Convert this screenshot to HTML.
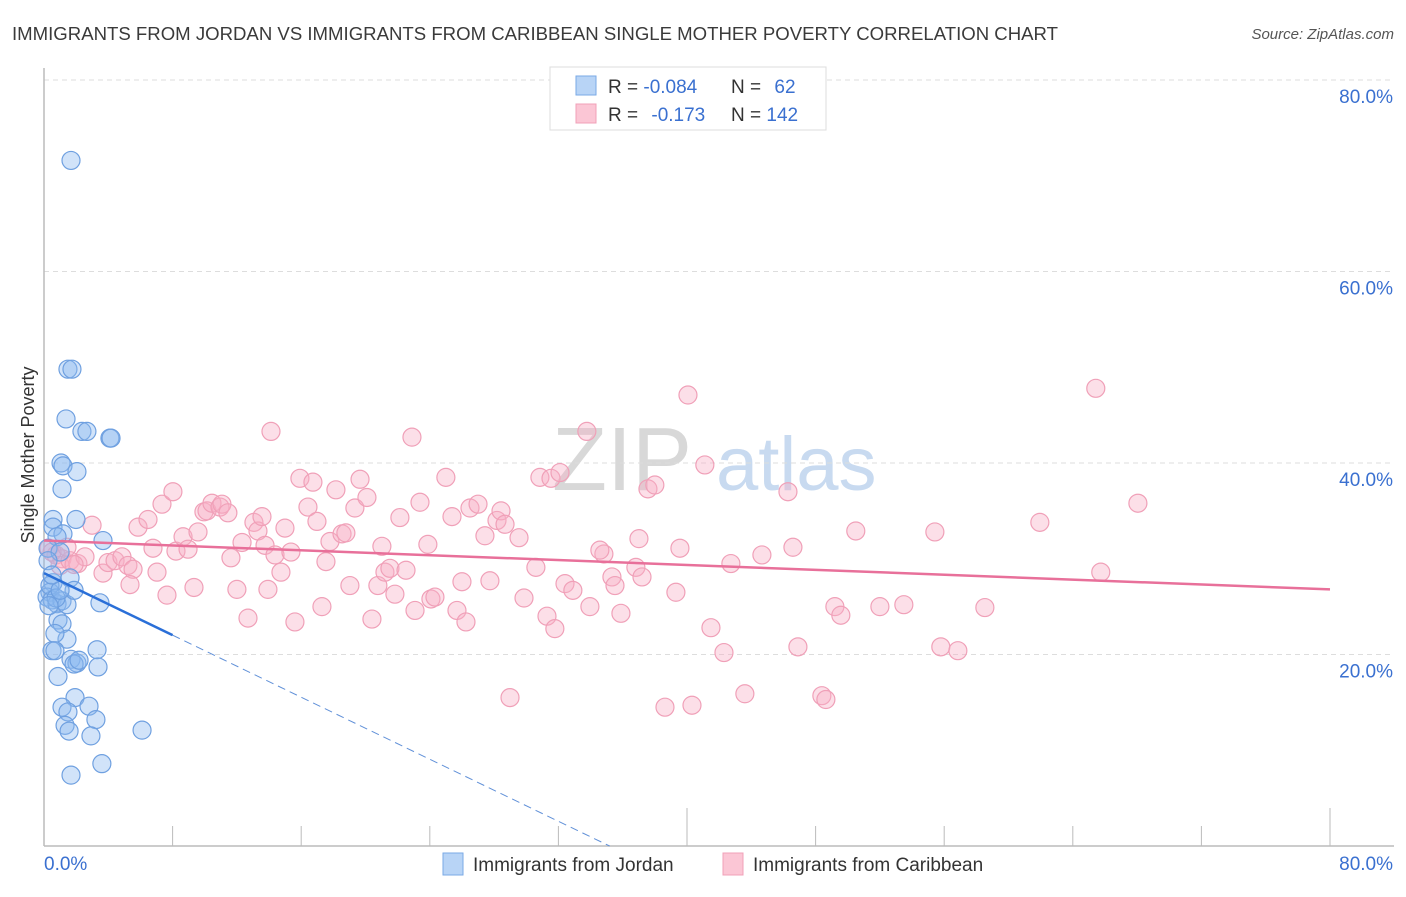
<!DOCTYPE html>
<html><head><meta charset="utf-8">
<style>
body{margin:0;background:#fff;font-family:"Liberation Sans",sans-serif;}
svg text{font-family:"Liberation Sans",sans-serif;}
</style></head>
<body>
<svg width="1406" height="892" xmlns="http://www.w3.org/2000/svg" id="chart">
<text x="12" y="40" font-size="18" fill="#3a3a3a" textLength="1046" lengthAdjust="spacingAndGlyphs">IMMIGRANTS FROM JORDAN VS IMMIGRANTS FROM CARIBBEAN SINGLE MOTHER POVERTY CORRELATION CHART</text>
<text x="1394" y="39" font-size="15" fill="#555" font-style="italic" text-anchor="end">Source: ZipAtlas.com</text>
<g>
<text x="552" y="490" font-size="90" fill="#d8d8d8" font-family="Liberation Serif">ZIP</text>
<text x="716" y="490" font-size="76" fill="#c8daf0">atlas</text>
</g>
<g id="grid"></g>
<g id="axes"></g>
<g id="pts"></g>
<g id="trends"></g>
<text transform="translate(34,455) rotate(-90)" font-size="18" fill="#333" text-anchor="middle">Single Mother Poverty</text>
<g>
<rect x="550" y="67" width="276" height="63" fill="#fff" stroke="#ddd"/>
<rect x="576" y="76" width="20" height="19" fill="#b8d4f6" stroke="#7aaae6"/>
<rect x="576" y="104" width="20" height="19" fill="#fbc6d5" stroke="#f0a0b8"/>
<text x="608" y="93" font-size="19" fill="#333">R = <tspan fill="#3a70d0">-0.084</tspan></text>
<text x="731" y="93" font-size="19" fill="#333">N = <tspan fill="#3a70d0" dx="8">62</tspan></text>
<text x="608" y="121" font-size="19" fill="#333">R = <tspan fill="#3a70d0" dx="8">-0.173</tspan></text>
<text x="731" y="121" font-size="19" fill="#333">N = <tspan fill="#3a70d0">142</tspan></text>
</g>
<g>
<rect x="443" y="853" width="20" height="22" fill="#b8d4f6" stroke="#7aaae6"/>
<text x="473" y="871" font-size="19" fill="#333">Immigrants from Jordan</text>
<rect x="723" y="853" width="20" height="22" fill="#fbc6d5" stroke="#f0a0b8"/>
<text x="753" y="871" font-size="19" fill="#333">Immigrants from Caribbean</text>
</g>
</svg>
<script>
const yTicks=[20,40,60,80];
const xTickLabels=["0.0%","80.0%"];
const jordanX=[1.68,1.49,1.74,1.37,2.36,2.67,4.1,4.17,1.06,1.18,2.05,1.12,0.56,1.99,0.56,1.18,0.81,3.67,0.25,1.0,0.25,0.56,1.62,0.37,0.19,0.5,0.81,1.12,1.43,3.48,1.87,0.87,1.12,1.43,0.68,0.5,0.68,3.3,1.68,2.05,1.87,2.18,3.36,0.87,1.93,1.12,2.8,1.49,3.23,1.31,1.56,2.92,6.1,1.68,3.6,0.37,0.75,0.31,1.0,0.5];
const jordanY=[71.6,49.8,49.8,44.6,43.3,43.3,42.6,42.6,40.0,39.7,39.1,37.3,34.1,34.1,33.3,32.6,32.3,31.9,31.1,30.7,29.8,27.5,28.0,26.5,26.0,25.7,25.3,25.6,25.2,25.4,26.7,23.6,23.2,21.6,22.2,20.4,20.4,20.5,19.5,19.1,19.0,19.4,18.7,17.7,15.5,14.5,14.6,14.0,13.2,12.6,12.0,11.5,12.1,7.4,8.6,27.2,25.9,25.1,26.7,28.3];
const caribX=[.31,.75,1.12,.5,1.0,1.62,2.11,2.55,2.99,1.43,1.87,3.67,3.98,4.42,4.85,5.22,5.54,5.85,5.35,6.47,6.78,7.03,7.34,7.65,8.02,8.21,8.65,8.96,9.33,9.58,9.95,10.14,10.45,10.95,11.07,11.44,11.63,12.0,12.32,12.69,13.06,13.31,13.56,13.75,13.93,14.12,14.37,14.74,14.99,15.36,15.61,15.92,16.42,16.73,16.98,17.29,17.54,17.79,18.16,18.54,18.78,19.03,19.34,19.66,20.09,20.4,20.77,21.02,21.21,21.52,21.83,22.14,22.52,22.89,23.08,23.39,23.88,24.07,24.32,25.0,25.38,25.69,26.0,26.25,26.5,27.0,27.43,27.74,28.18,28.43,28.68,28.99,29.55,29.86,30.6,30.85,31.29,31.54,31.78,32.1,32.41,32.9,33.77,33.96,34.83,35.33,35.52,35.89,36.82,37.01,37.2,37.57,38.0,38.63,39.31,39.56,40.06,40.31,41.11,41.49,42.3,42.73,43.6,44.66,46.28,46.59,46.9,49.2,49.57,50.5,52.0,53.49,55.42,55.79,56.85,58.53,61.95,65.43,65.74,68.05,48.39,48.64,34.58];
const caribY=[31.1,30.4,30.0,30.7,29.3,29.8,29.5,30.2,33.5,31.2,29.4,28.5,29.6,29.8,30.2,29.3,28.9,33.3,27.3,34.1,31.1,28.6,35.7,26.2,37.0,30.8,32.3,31.0,27.0,32.8,34.9,35.0,35.8,35.4,35.7,34.8,30.1,26.8,31.7,23.8,33.8,32.9,34.4,31.4,26.8,43.3,30.4,28.6,33.2,30.7,23.4,38.4,35.4,38.0,33.9,25.0,29.7,31.8,37.2,32.6,32.7,27.2,35.3,38.3,36.4,23.7,27.2,31.3,28.6,29.0,26.3,34.3,28.8,42.7,24.6,35.9,31.5,25.8,26.0,38.5,34.4,24.6,27.6,23.4,35.3,35.7,32.4,27.7,34.0,35.0,33.6,15.5,32.2,25.9,29.1,38.5,24.0,38.4,22.7,39.0,27.4,26.7,43.3,25.0,30.5,28.1,27.2,24.3,29.1,32.1,28.1,37.3,37.7,14.5,26.5,31.1,47.1,14.7,39.8,22.8,20.2,29.5,15.9,30.4,37.0,31.2,20.8,25.0,24.1,32.9,25.0,25.2,32.8,20.8,20.4,24.9,33.8,47.8,28.6,35.8,15.7,15.3,30.9];
const caribTrend=[31.9,26.8];
const jordanTrend=[28.5,-0.81];
const jordanSolidEnd=8;

const NS="http://www.w3.org/2000/svg";
const X0=44,X1=1330,Y0=846,Y80=80;
function sx(v){return X0+(v/80)*(X1-X0);}
function sy(v){return Y0-(v/80)*(Y0-Y80);}
function mk(tag,attrs,parent){const e=document.createElementNS(NS,tag);for(const k in attrs)e.setAttribute(k,attrs[k]);parent.appendChild(e);return e;}
const grid=document.getElementById('grid'),axes=document.getElementById('axes'),pts=document.getElementById('pts'),tr=document.getElementById('trends');
yTicks.forEach(t=>{
  const l=mk('line',{x1:X0,x2:1392,y1:sy(t),y2:sy(t),stroke:'#ddd','stroke-dasharray':'5,4'},grid);
  
  
  const tx=mk('text',{x:1393,y:sy(t)+23,'font-size':19,fill:'#3a70d0','text-anchor':'end'},axes);
  tx.textContent=t.toFixed(1)+'%';
  
  
});
const ya=mk('line',{x1:X0,x2:X0,y1:68,y2:Y0,stroke:'#bbb','stroke-width':1.5},axes);


const xa=mk('line',{x1:X0,x2:1394,y1:Y0,y2:Y0,stroke:'#bbb','stroke-width':1.5},axes);


for(let i=0;i<=10;i++){
  const v=i*8;const long=(i===5||i===10);
  const tk=mk('line',{x1:sx(v),x2:sx(v),y1:long?808:826,y2:Y0,stroke:'#bbb'},axes);
  
  
}
[[0,'start',44],[80,'end',1393]].forEach((a,i)=>{
  const t=mk('text',{x:a[2],y:870,'font-size':19,fill:'#3a70d0','text-anchor':a[1]},axes);
  t.textContent=xTickLabels[i];
  
  
});
caribX.forEach((x,i)=>{
  const c=mk('circle',{cx:sx(x),cy:sy(caribY[i]),r:9,fill:'rgba(248,175,198,0.4)',stroke:'#f0a0b8','stroke-width':1.2},pts);
  
  
});
jordanX.forEach((x,i)=>{
  const c=mk('circle',{cx:sx(x),cy:sy(jordanY[i]),r:9,fill:'rgba(140,185,240,0.4)',stroke:'#6fa0e0','stroke-width':1.2},pts);
  
  
});
const pl=mk('line',{x1:sx(0),y1:sy(caribTrend[0]),x2:sx(80),y2:sy(caribTrend[1]),stroke:'#e8709a','stroke-width':2.5},tr);


const jEnd=-jordanTrend[0]/jordanTrend[1];
const bl=mk('line',{x1:sx(0),y1:sy(jordanTrend[0]),x2:sx(jordanSolidEnd),y2:sy(jordanTrend[0]+jordanTrend[1]*jordanSolidEnd),stroke:'#2a6fd8','stroke-width':2.5},tr);


const bd=mk('line',{x1:sx(jordanSolidEnd),y1:sy(jordanTrend[0]+jordanTrend[1]*jordanSolidEnd),x2:sx(jEnd),y2:sy(0),stroke:'#6090d8','stroke-width':1,'stroke-dasharray':'8,5'},tr);


</script>
</body></html>
